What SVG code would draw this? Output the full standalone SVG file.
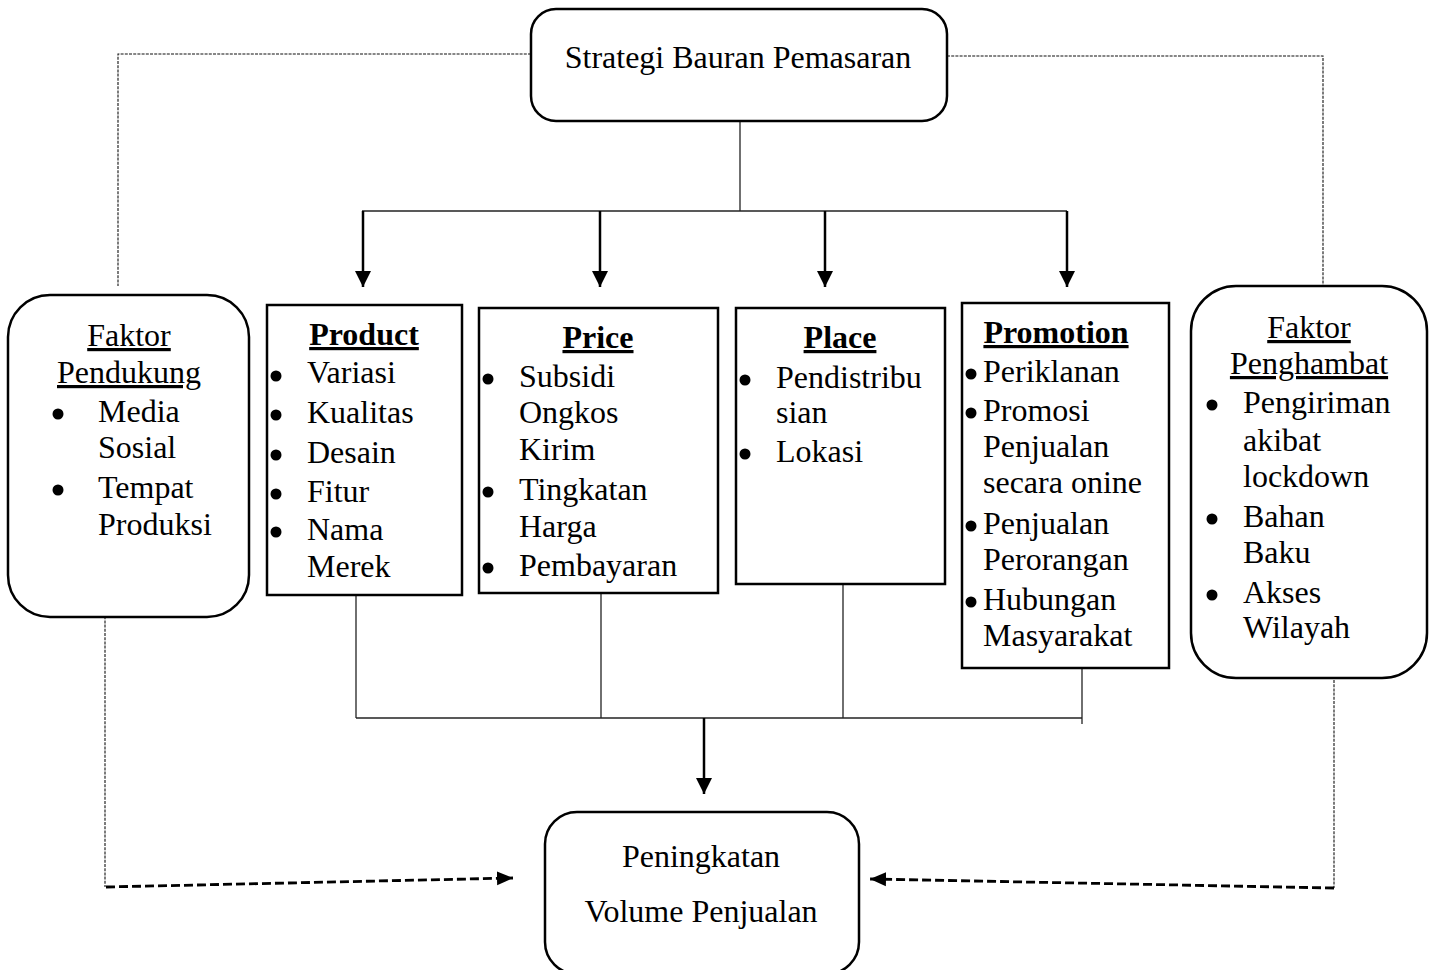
<svg xmlns="http://www.w3.org/2000/svg" width="1434" height="970" viewBox="0 0 1434 970">
<style>
  .box { fill: #fff; stroke: #000; stroke-width: 2.5; }
  .t { font-family: "Liberation Serif", "Times New Roman", serif; font-size: 32px; fill: #000; }
  .h { font-weight: bold; text-decoration: underline; text-anchor: middle; }
  .u { text-decoration: underline; text-anchor: middle; }
  .c { text-anchor: middle; }
  .thin { fill: none; stroke: #222; stroke-width: 1.3; }
  .arr { fill: none; stroke: #000; stroke-width: 2.5; marker-end: url(#ah); }
  .dot { fill: none; stroke: #111; stroke-width: 1.1; stroke-dasharray: 3 1.2; }
  .dash { fill: none; stroke: #000; stroke-width: 2.8; stroke-dasharray: 9 4; marker-end: url(#ah2); }
  .b { fill: #000; }
</style>
<defs>
  <marker id="ah" markerUnits="userSpaceOnUse" viewBox="0 0 16 16" markerWidth="16" markerHeight="16" refX="16" refY="8" orient="auto">
    <path d="M0,0 L16,8 L0,16 z" fill="#000"/>
  </marker>
  <marker id="ah2" markerUnits="userSpaceOnUse" viewBox="0 0 16 16" markerWidth="16" markerHeight="16" refX="16" refY="8" orient="auto">
    <path d="M0,1 L16,8 L0,15 z" fill="#000"/>
  </marker>
</defs>

<g id="connectors">
  <line class="thin" x1="740" y1="121" x2="740" y2="211"/>
  <line class="thin" x1="362" y1="211" x2="1067" y2="211"/>
  <line class="arr" x1="363" y1="211" x2="363" y2="287"/>
  <line class="arr" x1="600" y1="211" x2="600" y2="287"/>
  <line class="arr" x1="825" y1="211" x2="825" y2="287"/>
  <line class="arr" x1="1067" y1="211" x2="1067" y2="287"/>
  <line class="thin" x1="356" y1="595" x2="356" y2="718"/>
  <line class="thin" x1="601" y1="593" x2="601" y2="718"/>
  <line class="thin" x1="843" y1="584" x2="843" y2="718"/>
  <line class="thin" x1="1082" y1="668" x2="1082" y2="724"/>
  <line class="thin" x1="356" y1="718" x2="1082" y2="718"/>
  <line class="arr" x1="704" y1="718" x2="704" y2="794"/>
  <polyline class="dot" points="531,54 118,54 118,286"/>
  <polyline class="dot" points="947,56 1323,56 1323,285"/>
  <line class="dot" x1="105" y1="612" x2="105" y2="887"/>
  <line class="dot" x1="1334" y1="680" x2="1334" y2="888"/>
  <line class="dash" x1="106" y1="887" x2="513" y2="878"/>
  <line class="dash" x1="1334" y1="888" x2="870" y2="879"/>
</g>

<g id="strategi">
  <rect class="box" x="531" y="9" width="416" height="112" rx="25"/>
  <text class="t c" x="738" y="68">Strategi Bauran Pemasaran</text>
</g>

<g id="faktor-pendukung">
  <rect class="box" x="8" y="295" width="241" height="322" rx="42"/>
  <text class="t u" x="129" y="346">Faktor</text>
  <text class="t u" x="129" y="383">Pendukung</text>
  <circle class="b" cx="58" cy="414" r="5.5"/>
  <text class="t" x="98" y="422">Media</text>
  <text class="t" x="98" y="458">Sosial</text>
  <circle class="b" cx="58" cy="490" r="5.5"/>
  <text class="t" x="98" y="498">Tempat</text>
  <text class="t" x="98" y="535">Produksi</text>
</g>

<g id="product">
  <rect class="box" x="267" y="305" width="195" height="290"/>
  <text class="t h" x="364" y="345">Product</text>
  <circle class="b" cx="276" cy="376" r="5.5"/>
  <text class="t" x="307" y="383">Variasi</text>
  <circle class="b" cx="276" cy="415" r="5.5"/>
  <text class="t" x="307" y="423">Kualitas</text>
  <circle class="b" cx="276" cy="455" r="5.5"/>
  <text class="t" x="307" y="463">Desain</text>
  <circle class="b" cx="276" cy="494" r="5.5"/>
  <text class="t" x="307" y="502">Fitur</text>
  <circle class="b" cx="276" cy="532" r="5.5"/>
  <text class="t" x="307" y="540">Nama</text>
  <text class="t" x="307" y="577">Merek</text>
</g>

<g id="price">
  <rect class="box" x="479" y="308" width="239" height="285"/>
  <text class="t h" x="598" y="348">Price</text>
  <circle class="b" cx="488" cy="379" r="5.5"/>
  <text class="t" x="519" y="387">Subsidi</text>
  <text class="t" x="519" y="423">Ongkos</text>
  <text class="t" x="519" y="460">Kirim</text>
  <circle class="b" cx="488" cy="492" r="5.5"/>
  <text class="t" x="519" y="500">Tingkatan</text>
  <text class="t" x="519" y="537">Harga</text>
  <circle class="b" cx="488" cy="568" r="5.5"/>
  <text class="t" x="519" y="576">Pembayaran</text>
</g>

<g id="place">
  <rect class="box" x="736" y="308" width="209" height="276"/>
  <text class="t h" x="840" y="348">Place</text>
  <circle class="b" cx="745" cy="380" r="5.5"/>
  <text class="t" x="776" y="388">Pendistribu</text>
  <text class="t" x="776" y="423">sian</text>
  <circle class="b" cx="745" cy="454" r="5.5"/>
  <text class="t" x="776" y="462">Lokasi</text>
</g>

<g id="promotion">
  <rect class="box" x="962" y="303" width="207" height="365"/>
  <text class="t h" x="1056" y="343">Promotion</text>
  <circle class="b" cx="971" cy="374" r="5.5"/>
  <text class="t" x="983" y="382">Periklanan</text>
  <circle class="b" cx="971" cy="413" r="5.5"/>
  <text class="t" x="983" y="421">Promosi</text>
  <text class="t" x="983" y="457">Penjualan</text>
  <text class="t" x="983" y="493">secara onine</text>
  <circle class="b" cx="971" cy="526" r="5.5"/>
  <text class="t" x="983" y="534">Penjualan</text>
  <text class="t" x="983" y="570">Perorangan</text>
  <circle class="b" cx="971" cy="602" r="5.5"/>
  <text class="t" x="983" y="610">Hubungan</text>
  <text class="t" x="983" y="646">Masyarakat</text>
</g>

<g id="faktor-penghambat">
  <rect class="box" x="1191" y="286" width="236" height="392" rx="45"/>
  <text class="t u" x="1309" y="338">Faktor</text>
  <text class="t u" x="1309" y="374">Penghambat</text>
  <circle class="b" cx="1212" cy="405" r="5.5"/>
  <text class="t" x="1243" y="413">Pengiriman</text>
  <text class="t" x="1243" y="451">akibat</text>
  <text class="t" x="1243" y="487">lockdown</text>
  <circle class="b" cx="1212" cy="519" r="5.5"/>
  <text class="t" x="1243" y="527">Bahan</text>
  <text class="t" x="1243" y="563">Baku</text>
  <circle class="b" cx="1212" cy="595" r="5.5"/>
  <text class="t" x="1243" y="603">Akses</text>
  <text class="t" x="1243" y="638">Wilayah</text>
</g>

<g id="peningkatan">
  <rect class="box" x="545" y="812" width="314" height="162" rx="32"/>
  <text class="t c" x="701" y="867">Peningkatan</text>
  <text class="t c" x="701" y="922">Volume Penjualan</text>
</g>
</svg>
